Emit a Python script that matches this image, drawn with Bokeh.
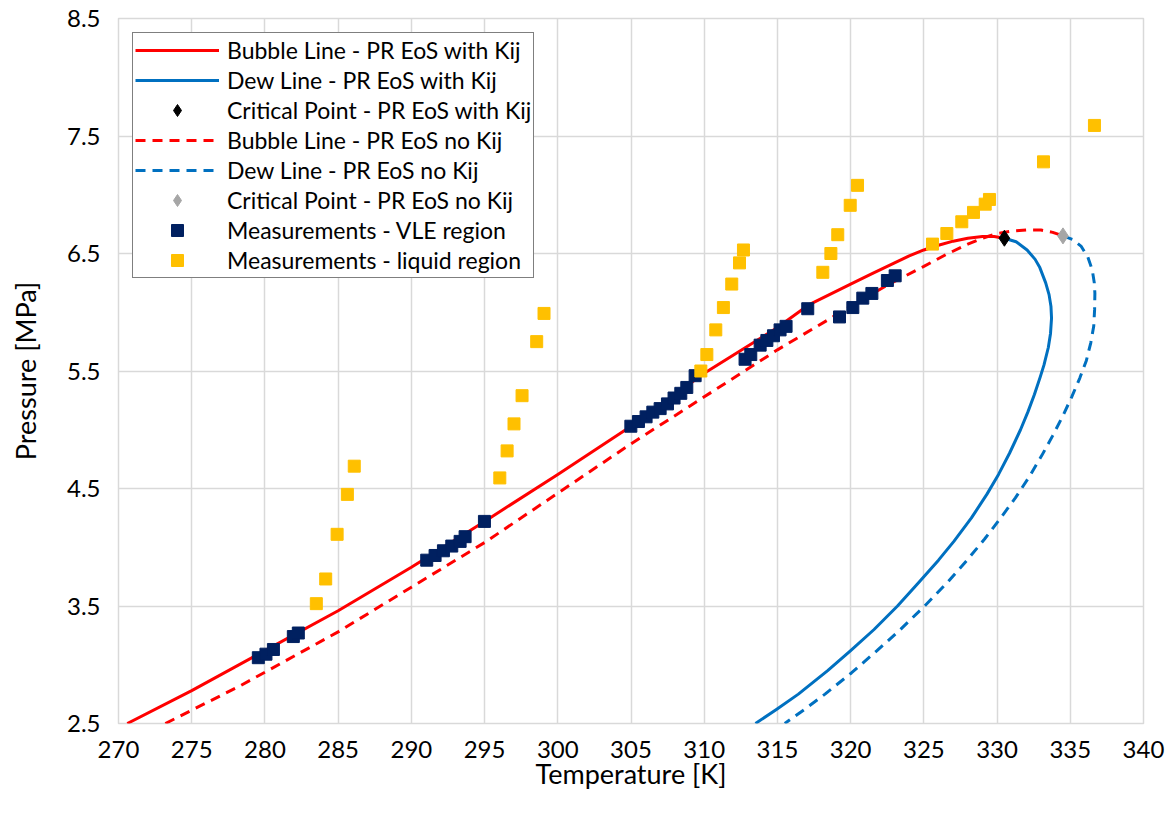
from bokeh.plotting import figure
from bokeh.models import Range1d, FixedTicker, Legend, LegendItem
from bokeh.embed import file_html
from bokeh.resources import INLINE

# --- Peng-Robinson phase envelope, with binary interaction parameter (Kij) ---
bubble_kij_T = [270.6, 275.0, 280.0, 285.0, 290.0, 295.0, 300.0, 305.0, 310.0,
                315.0, 317.1, 320.0, 321.5, 323.0, 324.0, 325.0, 326.0, 327.0,
                328.0, 329.0, 329.8, 330.5]
bubble_kij_P = [2.50, 2.78, 3.12, 3.46, 3.83, 4.22, 4.62, 5.03, 5.48,
                5.87, 6.06, 6.24, 6.33, 6.42, 6.48, 6.53, 6.57, 6.605,
                6.63, 6.645, 6.645, 6.63]

dew_kij_T = [330.5, 331.3, 332.05, 332.6, 332.92, 333.32, 333.55, 333.68, 333.72,
             333.65, 333.5, 333.2, 332.95, 332.55, 332.1, 331.6, 330.85, 330.1,
             329.3, 328.25, 327.05, 326.0, 324.65, 323.2, 321.6, 320.0, 318.43,
             316.43, 314.93, 313.5]
dew_kij_P = [6.63, 6.60, 6.53, 6.45, 6.38, 6.25, 6.15, 6.05, 5.95,
             5.82, 5.70, 5.55, 5.45, 5.30, 5.15, 5.00, 4.80, 4.62,
             4.45, 4.25, 4.05, 3.89, 3.70, 3.50, 3.30, 3.12, 2.95,
             2.75, 2.62, 2.50]

crit_kij_T = [330.5]
crit_kij_P = [6.63]

# --- Peng-Robinson phase envelope, no Kij ---
bubble_nokij_T = [273.2, 278.3, 285.0, 290.0, 295.0, 300.0, 305.0, 310.0,
                  315.0, 320.0, 322.5, 325.0, 326.5, 328.0, 329.0, 330.0,
                  331.0, 332.0, 333.0, 333.8, 334.5]
bubble_nokij_P = [2.50, 2.82, 3.28, 3.66, 4.04, 4.46, 4.88, 5.28,
                  5.68, 6.05, 6.23, 6.39, 6.49, 6.58, 6.63, 6.67,
                  6.69, 6.70, 6.70, 6.68, 6.65]

dew_nokij_T = [334.5, 335.15, 335.75, 336.2, 336.5, 336.64, 336.68, 336.66, 336.6,
               336.4, 336.1, 335.65, 335.1, 334.5, 333.8, 333.05, 332.2, 331.25,
               330.25, 329.15, 327.95, 326.6, 325.05, 323.4, 321.8, 320.05, 318.25,
               316.85, 315.5]
dew_nokij_P = [6.65, 6.62, 6.56, 6.47, 6.36, 6.25, 6.16, 6.02, 5.88,
               5.74, 5.59, 5.44, 5.28, 5.12, 4.95, 4.78, 4.60, 4.42,
               4.25, 4.07, 3.89, 3.70, 3.50, 3.30, 3.12, 2.93, 2.75,
               2.62, 2.50]

crit_nokij_T = [334.5]
crit_nokij_P = [6.65]

# --- Measurements ---
vle_T = [279.55, 280.07, 280.58, 281.94, 282.28,
         291.05, 291.62, 292.19, 292.76, 293.33, 293.67, 294.99,
         304.99, 305.51, 306.03, 306.49, 306.99, 307.49, 307.94, 308.40, 308.81, 309.38,
         312.79, 313.18, 313.82, 314.28, 314.73, 315.18, 315.59, 317.07,
         319.24, 320.15, 320.83, 321.45, 322.51, 323.04]
vle_P = [3.06, 3.09, 3.13, 3.24, 3.27,
         3.89, 3.93, 3.97, 4.01, 4.05, 4.09, 4.22,
         5.03, 5.07, 5.11, 5.15, 5.18, 5.22, 5.27, 5.31, 5.36, 5.46,
         5.60, 5.64, 5.72, 5.76, 5.80, 5.85, 5.88, 6.03,
         5.96, 6.04, 6.12, 6.16, 6.27, 6.31]

liquid_T = [283.51, 284.15, 284.93, 285.63, 286.10,
            296.04, 296.54, 297.01, 297.56, 298.56, 299.06,
            309.77, 310.18, 310.79, 311.31, 311.88, 312.41, 312.68,
            318.10, 318.65, 319.12, 319.97, 320.47,
            325.59, 326.57, 327.59, 328.39, 329.19, 329.48, 333.17, 336.65]
liquid_P = [3.52, 3.73, 4.11, 4.45, 4.69,
            4.59, 4.82, 5.05, 5.29, 5.75, 5.99,
            5.50, 5.64, 5.85, 6.04, 6.24, 6.42, 6.53,
            6.34, 6.50, 6.66, 6.91, 7.08,
            6.58, 6.67, 6.77, 6.85, 6.92, 6.96, 7.28, 7.59]

x_ticks = [270, 275, 280, 285, 290, 295, 300, 305, 310, 315, 320, 325, 330, 335, 340]
y_ticks = [2.5, 3.5, 4.5, 5.5, 6.5, 7.5, 8.5]

FONT = "Lato"
RED = "#ff0000"
BLUE = "#0070c0"
NAVY = "#002060"
GOLD = "#ffc000"

p = figure(width=1169, height=814, output_backend="svg", toolbar_location=None,
           x_range=Range1d(270, 340), y_range=Range1d(2.5, 8.5),
           min_border_left=118, min_border_right=26, min_border_top=18,
           min_border_bottom=91, background_fill_color="white",
           border_fill_color="white")
p.outline_line_color = "#d9d9d9"
p.outline_line_width = 1.5

for ax in (p.xaxis[0], p.yaxis[0]):
    ax.axis_line_color = None
    ax.major_tick_line_color = None
    ax.minor_tick_line_color = None
    ax.major_label_text_font = FONT
    ax.major_label_text_font_size = "24px"
    ax.major_label_text_color = "black"
    ax.axis_label_text_font = FONT
    ax.axis_label_text_font_size = "27px"
    ax.axis_label_text_font_style = "normal"
    ax.axis_label_text_color = "black"

p.xaxis.ticker = FixedTicker(ticks=x_ticks)
p.yaxis.ticker = FixedTicker(ticks=y_ticks)
p.xaxis.axis_label = "Temperature [K]"
p.yaxis.axis_label = "Pressure [MPa]"
p.xaxis.major_label_standoff = 11
p.xaxis.axis_label_standoff = -4
p.yaxis.major_label_standoff = 12
p.yaxis.axis_label_standoff = 22

p.grid.grid_line_color = "#d9d9d9"
p.grid.grid_line_width = 1.5

r_bub_k = p.line(bubble_kij_T, bubble_kij_P, line_color=RED, line_width=3,
                 line_join="round")
r_dew_k = p.line(dew_kij_T, dew_kij_P, line_color=BLUE, line_width=3,
                 line_join="round")
r_bub_n = p.line(bubble_nokij_T, bubble_nokij_P, line_color=RED, line_width=3,
                 line_dash="10 7")
r_dew_n = p.line(dew_nokij_T, dew_nokij_P, line_color=BLUE, line_width=3,
                 line_dash="10 7")
r_crit_k = p.scatter(crit_kij_T, crit_kij_P, marker="diamond", size=16,
                     fill_color="black", line_color="black")
r_crit_n = p.scatter(crit_nokij_T, crit_nokij_P, marker="diamond", size=16,
                     fill_color="#a6a6a6", line_color="#a6a6a6")
r_vle = p.scatter(vle_T, vle_P, marker="square", size=12,
                  fill_color=NAVY, line_color=NAVY)
r_liq = p.scatter(liquid_T, liquid_P, marker="square", size=12,
                  fill_color=GOLD, line_color=GOLD)

legend = Legend(items=[
    LegendItem(label="Bubble Line - PR EoS with Kij", renderers=[r_bub_k]),
    LegendItem(label="Dew Line - PR EoS with Kij", renderers=[r_dew_k]),
    LegendItem(label="Critical Point - PR EoS with Kij", renderers=[r_crit_k]),
    LegendItem(label="Bubble Line - PR EoS no Kij", renderers=[r_bub_n]),
    LegendItem(label="Dew Line - PR EoS no Kij", renderers=[r_dew_n]),
    LegendItem(label="Critical Point - PR EoS no Kij", renderers=[r_crit_n]),
    LegendItem(label="Measurements - VLE region", renderers=[r_vle]),
    LegendItem(label="Measurements - liquid region", renderers=[r_liq]),
], location="top_left")
legend.margin = 14
legend.padding = 2
legend.spacing = 0
legend.glyph_width = 84
legend.glyph_height = 30
legend.label_height = 30
legend.label_standoff = 8
legend.label_text_font = FONT
legend.label_text_font_size = "23px"
legend.label_text_color = "black"
legend.border_line_color = "black"
legend.border_line_width = 1.5
legend.background_fill_color = "white"
legend.background_fill_alpha = 1.0
p.add_layout(legend)

open("out.html", "w").write(file_html(p, INLINE))
